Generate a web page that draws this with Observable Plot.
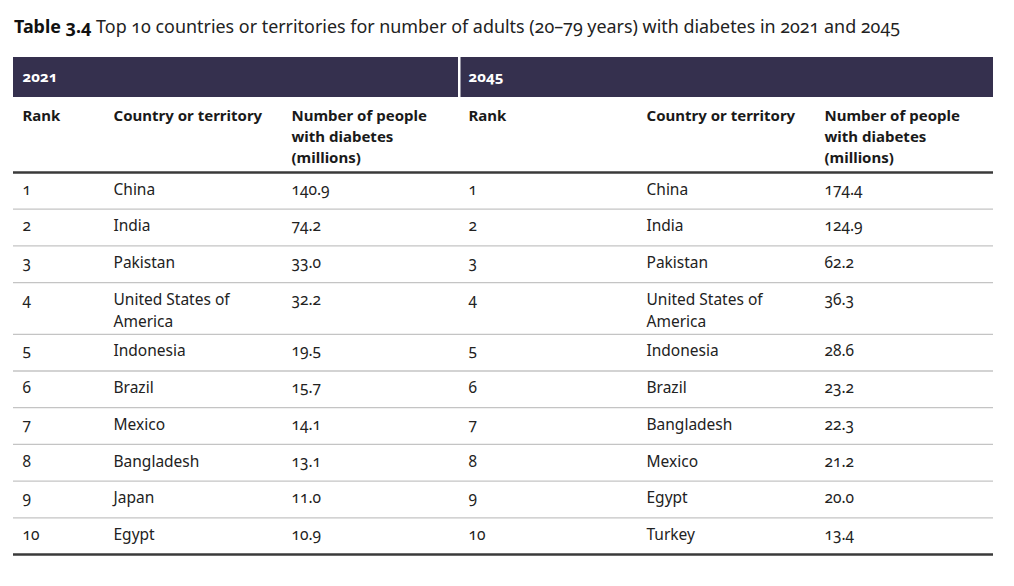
<!DOCTYPE html>
<html><head><meta charset="utf-8">
<script src="https://cdn.jsdelivr.net/npm/d3@7"></script>
<script src="https://cdn.jsdelivr.net/npm/@observablehq/plot@0.6"></script>
<style>
body{margin:0;background:#fff;font-family:"Noto Sans",sans-serif;}
#title{height:45px;box-sizing:border-box;padding:17px 0 0 14px;font-size:17.9px;line-height:18px;color:#222;white-space:nowrap;font-variant-numeric:oldstyle-nums;}
#title b{color:#111;}
#chart svg{display:block;}
</style></head><body>
<div id="title"><b>Table 3.4</b> Top 10 countries or territories for number of adults (20–79 years) with diabetes in 2021 and 2045</div>
<div id="chart"></div>
<script>
// ---- data ----
const years = ["2021", "2045"];
const ranks = [1, 2, 3, 4, 5, 6, 7, 8, 9, 10];
const countries2021 = ["China", "India", "Pakistan", "United States of America", "Indonesia", "Brazil", "Mexico", "Bangladesh", "Japan", "Egypt"];
const values2021 = [140.9, 74.2, 33.0, 32.2, 19.5, 15.7, 14.1, 13.1, 11.0, 10.9];
const countries2045 = ["China", "India", "Pakistan", "United States of America", "Indonesia", "Brazil", "Bangladesh", "Mexico", "Egypt", "Turkey"];
const values2045 = [174.4, 124.9, 62.2, 36.3, 28.6, 23.2, 22.3, 21.2, 20.0, 13.4];
const columnHeaders = ["Rank", "Country or territory", "Number of people\nwith diabetes\n(millions)"];

// ---- layout ----
const W = 1014, H = 541;
const tableLeft = 13, tableRight = 993, blockSplit = 459;
const colX = [[22, 113, 291], [468, 646, 824]];
const barTop = 12, barBottom = 52;
const headerTextTop = 61;
const headerRule = 127;
const rowH = 36.7, extraLineH = 15, capOffset = 6.5;
const maxChars = 17;

function wrap(s) {
  const words = s.split(" "), lines = [];
  let cur = "";
  for (const w of words) {
    if (cur && (cur + " " + w).length > maxChars) { lines.push(cur); cur = w; }
    else cur = cur ? cur + " " + w : w;
  }
  if (cur) lines.push(cur);
  return lines;
}

const blocks = years.map((year, b) => ({
  year, b,
  countries: b === 0 ? countries2021 : countries2045,
  values: b === 0 ? values2021 : values2045
}));

// row geometry from the number of wrapped lines per row
const rowLines = ranks.map((r, i) => Math.max(...blocks.map(bl => wrap(bl.countries[i]).length)));
const rowTops = [];
let acc = headerRule;
rowLines.forEach(n => { rowTops.push(acc); acc += rowH + (n - 1) * extraLineH; });
const tableBottom = acc;

const cells = [];
blocks.forEach(bl => {
  ranks.forEach((r, i) => {
    const y = rowTops[i] + capOffset;
    cells.push({x: colX[bl.b][0], y, text: String(r)});
    cells.push({x: colX[bl.b][1], y, text: wrap(bl.countries[i]).join("\n")});
    cells.push({x: colX[bl.b][2], y, text: bl.values[i].toFixed(1)});
  });
});
const headers = [];
blocks.forEach(bl => columnHeaders.forEach((h, c) => headers.push({x: colX[bl.b][c], y: headerTextTop, text: h})));
const separators = rowTops.slice(1);

const chart = Plot.plot({
  width: W, height: H, margin: 0,
  x: {type: "linear", domain: [0, W], range: [0, W], axis: null},
  y: {type: "linear", domain: [0, H], range: [0, H], axis: null},
  style: {fontFamily: "'Noto Sans', sans-serif", fontVariantNumeric: "oldstyle-nums", background: "#fff"},
  marks: [
    Plot.rect(blocks, {
      x1: d => d.b === 0 ? tableLeft : blockSplit + 1.5,
      x2: d => d.b === 0 ? blockSplit - 1 : tableRight,
      y1: () => barTop, y2: () => barBottom, fill: "#35304e"
    }),
    Plot.text(blocks, {
      x: d => colX[d.b][0], y: () => (barTop + barBottom) / 2, text: "year",
      textAnchor: "start", lineAnchor: "middle", fill: "#fff", fontWeight: "bold", fontSize: 15
    }),
    Plot.text(headers, {
      x: "x", y: "y", text: "text", textAnchor: "start", lineAnchor: "top",
      fill: "#1a1a1a", fontWeight: "bold", fontSize: 15, lineHeight: 1.4
    }),
    Plot.ruleY(separators, {x1: tableLeft, x2: tableRight, stroke: "#c4c4c4", strokeWidth: 1.3}),
    Plot.ruleY([headerRule, tableBottom], {x1: tableLeft, x2: tableRight, stroke: "#3a3a3a", strokeWidth: 2.5}),
    Plot.text(cells, {
      x: "x", y: "y", text: "text", textAnchor: "start", lineAnchor: "top",
      fill: "#222", fontSize: 15.5, lineHeight: 1.42
    })
  ]
});
document.getElementById("chart").appendChild(chart);
</script>
</body></html>
